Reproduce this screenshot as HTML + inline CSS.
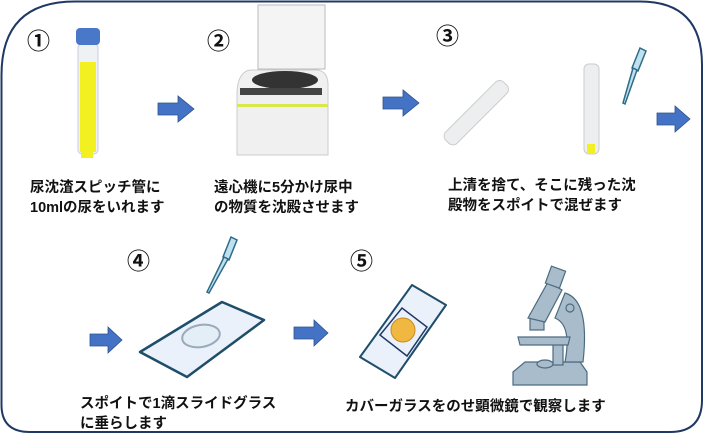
<!DOCTYPE html>
<html><head><meta charset="utf-8"><style>
body{margin:0;width:704px;height:440px;background:#fff;overflow:hidden;position:relative;font-family:"Liberation Sans","Noto Sans CJK JP",sans-serif;}
.t{position:absolute;font-size:14.5px;font-weight:bold;color:#111;line-height:20px;white-space:nowrap;}
.n{position:absolute;font-size:23px;font-weight:bold;color:#111;}
svg{position:absolute;left:0;top:0}
</style></head><body>
<svg width="704" height="440" viewBox="0 0 704 440">
<path d="M75,1.5 H640 Q702,1.5 702,65 V400 Q702,432 670,432 H30 Q1.5,432 1.5,405 V75 Q1.5,1.5 75,1.5 Z" fill="none" stroke="#1f3864" stroke-width="2"/>
<g fill="#4472c4" stroke="#2f528f" stroke-width="0.8">
<path d="M158,103h20v-7l16,13-16,13v-7h-20z"/>
<path d="M383,97h20v-7l16,13-16,13v-7h-20z"/>
<path d="M657,113h18v-7l15,13-15,13v-7h-18z"/>
<path d="M90,334h18v-7l14,13-14,13v-7h-18z"/>
<path d="M294,327h20v-7l14,13-14,13v-7h-20z"/>
</g>
<rect x="78" y="44" width="20" height="110" rx="4" fill="#eef2f5" stroke="#ccd" />
<rect x="80" y="62" width="16" height="90" fill="#f2f020"/>
<rect x="76" y="28" width="24" height="17" rx="4" fill="#4a78c8"/>
<rect x="81" y="148" width="12" height="10" fill="#f2f020"/>
<rect x="258" y="5" width="67" height="64" fill="#f4f4f4" stroke="#bbb"/>
<path d="M237,92 Q238,72 250,70 H318 Q328,72 328,85 V155 H237 Z" fill="#f0f0f0" stroke="#ccc"/>
<ellipse cx="285" cy="80" rx="33" ry="9" fill="#333"/>
<rect x="240" y="88" width="82" height="7" fill="#444"/>
<rect x="237" y="104" width="91" height="3" fill="#d8e84a"/>
<g transform="rotate(45 477 112)"><rect x="469" y="72" width="16" height="82" rx="6" fill="#eceeef" stroke="#ccc"/></g>
<rect x="584" y="64" width="15" height="90" rx="5" fill="#eceeef" stroke="#ccc"/>
<rect x="587" y="144" width="8" height="10" fill="#f2f020"/>
<g stroke="#2e6b87" stroke-width="1.5" fill="#bfe0ee">
<path d="M640,48 l6,3 -8,20 -6,-3z"/><path d="M633,68 l4,2 -12,34 -2,-1z"/>
<path d="M231,237 l6,3 -8,20 -6,-3z"/><path d="M224,257 l4,2 -19,34 -2,-1z"/>
</g>
<path d="M140,352 L222,302 L264,320 L187,377 Z" fill="#eaf1fa" stroke="#1f4e6b" stroke-width="2.5" stroke-linejoin="round"/>
<ellipse cx="201" cy="336" rx="19" ry="11" fill="#e4eef6" stroke="#9ab" stroke-width="2" transform="rotate(-10 201 336)"/>
<path d="M360,357 L412,285 L446,305 L395,378 Z" fill="#eaf1fa" stroke="#1f4e6b" stroke-width="2" stroke-linejoin="round"/>
<path d="M380,335 L402,308 L427,327 L407,356 Z" fill="#eaf1fa" stroke="#1f3864" stroke-width="1.5"/>
<circle cx="403" cy="330" r="12" fill="#f0b840" stroke="#c88a20"/>
<g fill="#a8bccb" stroke="#4d6b7f" stroke-width="1.2">
<path d="M513,372 L525,362 H580 L587,372 V385 H513Z"/>
<path d="M565,293 Q590,300 583,362 H565 Q572,325 555,318z"/>
<circle cx="570" cy="308" r="4"/>
<rect x="553" y="343" width="10" height="22"/>
<ellipse cx="545" cy="364" rx="8" ry="4"/>
<path d="M518,337 H570 L568,345 H520Z"/>
<rect x="530" y="314" width="14" height="16"/>
<path d="M528,318 L548,282 L562,290 L545,322Z"/>
<rect x="548" y="268" width="15" height="18" transform="rotate(20 555 277)"/>
</g>
</svg>
<div class="n" style="left:27px;top:22px">①</div>
<div class="n" style="left:207px;top:22px">②</div>
<div class="n" style="left:436px;top:17px">③</div>
<div class="n" style="left:127px;top:242px">④</div>
<div class="n" style="left:350px;top:242px">⑤</div>
<div class="t" style="left:30px;top:178px">尿沈渣スピッチ管に<br>10mlの尿をいれます</div>
<div class="t" style="left:214px;top:178px">遠心機に5分かけ尿中<br>の物質を沈殿させます</div>
<div class="t" style="left:448px;top:176px">上清を捨て、そこに残った沈<br>殿物をスポイトで混ぜます</div>
<div class="t" style="left:80px;top:394px">スポイトで1滴スライドグラス<br>に垂らします</div>
<div class="t" style="left:345px;top:397px">カバーガラスをのせ顕微鏡で観察します</div>
</body></html>
